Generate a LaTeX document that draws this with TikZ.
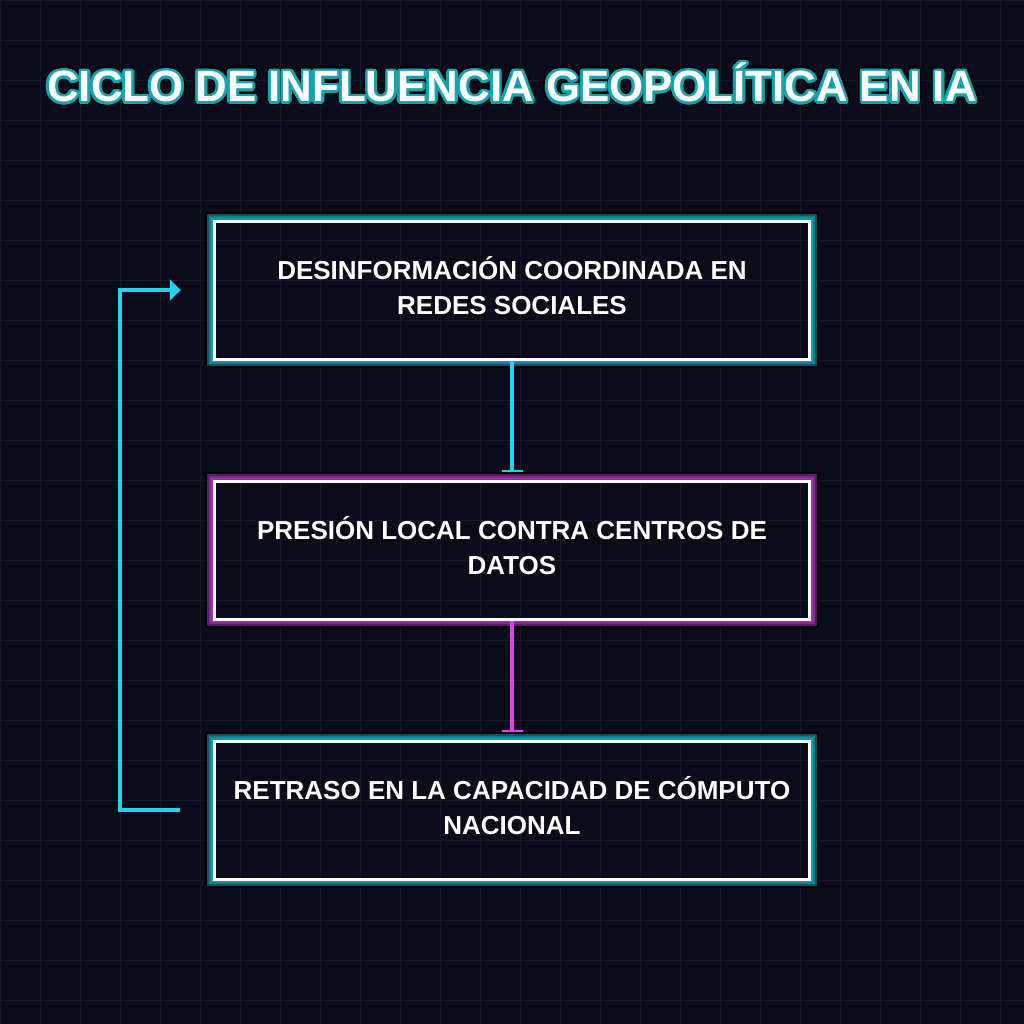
\documentclass[tikz,border=0pt]{standalone}
\usepackage{fontspec}
\setmainfont{Liberation Sans}
\usepackage{contour}
\usetikzlibrary{arrows.meta, positioning, backgrounds}

\definecolor{bgdark}{HTML}{0B0B19}
\definecolor{gridline}{HTML}{171728}
\definecolor{neoncyan}{HTML}{22D3EE}
\definecolor{neonpink}{HTML}{D946EF}
\definecolor{glowteal}{HTML}{16A2AE}

\begin{document}
\begin{tikzpicture}[
  x=0.5pt, y=-0.5pt,
  card/.style={draw=white, line width=1.5pt, minimum width=297.7pt, minimum height=69pt,
               align=center, text=white, text height=27pt, text depth=2.5pt,
               font=\bfseries\fontsize{13}{17.5}\selectfont},
  flow/.style={line width=2pt, -{Bar[width=10.5pt, line width=1pt]}},
  back/.style={line width=2pt, neoncyan, -{Triangle[length=5.5pt, width=10.5pt]}},
  ttl/.style={text=white, inner sep=0pt, font=\bfseries\fontsize{21.9}{26}\selectfont},
  node distance=59.5pt
]

\useasboundingbox (0,0) rectangle (1024,1024);

\node[ttl] (title) at (512,84) {\contourlength{2.1pt}\contour{black}{CICLO DE INFLUENCIA GEOPOLÍTICA EN IA}};
\node[ttl] (titletop) at (title.center) {\contourlength{1.4pt}\contour{glowteal}{CICLO DE INFLUENCIA GEOPOLÍTICA EN IA}};

\node[card] (b1) at (512,290) {DESINFORMACIÓN COORDINADA EN\\REDES SOCIALES};
\node[card, below=of b1] (b2) {PRESIÓN LOCAL CONTRA CENTROS DE\\DATOS};
\node[card, below=of b2] (b3) {RETRASO EN LA CAPACIDAD DE CÓMPUTO\\NACIONAL};

\draw[flow, neoncyan] (b1.south) -- ([yshift=4pt]b2.north);
\draw[flow, neonpink] (b2.south) -- ([yshift=4pt]b3.north);
\draw[back] ([xshift=-16.5pt]b3.west) -- ++(-30pt,0) |- ([xshift=-16pt]b1.west);

\begin{scope}[on background layer]
  \fill[bgdark] (0,0) rectangle (1024,1024);
  \foreach \g in {0,40,...,1000} {
    \draw[gridline, line width=0.5pt] (\g,0) -- (\g,1024);
    \draw[gridline, line width=0.5pt] (0,\g) -- (1024,\g);
  }
  \begin{scope}[even odd rule]
    \clip (0,0) rectangle (1024,1024)
      (b1.north west) rectangle (b1.south east)
      (b2.north west) rectangle (b2.south east)
      (b3.north west) rectangle (b3.south east);
    \foreach \n/\c in {b1/neoncyan, b2/neonpink, b3/neoncyan} {
      \draw[line width=7.7pt, black] (\n.north west) rectangle (\n.south east);
      \draw[line width=5.4pt, \c!40!black] (\n.north west) rectangle (\n.south east);
      \draw[line width=3.4pt, \c!60!black] (\n.north west) rectangle (\n.south east);
      \draw[line width=1.7pt, \c!75!black] (\n.north west) rectangle (\n.south east);
    }
  \end{scope}
\end{scope}

\end{tikzpicture}
\end{document}
